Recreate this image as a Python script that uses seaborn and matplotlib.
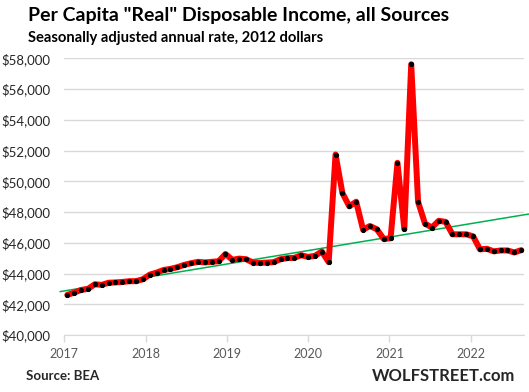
import numpy as np
import pandas as pd
import seaborn as sb
from matplotlib import pyplot as plt
from matplotlib.ticker import FuncFormatter

# monthly per capita real disposable income, Jan 2017 - Jul 2022 (2012 dollars)
income_2017 = [42606, 42756, 42930, 43000, 43300, 43260, 43400, 43420, 43450, 43500, 43500, 43630]
income_2018 = [43930, 44060, 44230, 44300, 44410, 44560, 44670, 44760, 44720, 44760, 44800, 45270]
income_2019 = [44890, 44970, 44930, 44710, 44690, 44710, 44740, 44930, 45000, 45020, 45190, 45080]
income_2020 = [45150, 45430, 44740, 51740, 49230, 48370, 48670, 46850, 47090, 46880, 46250, 46290]
income_2021 = [51200, 46890, 57610, 48660, 47250, 46990, 47430, 47360, 46550, 46550, 46550, 46420]
income_2022 = [45570, 45610, 45440, 45500, 45500, 45370, 45520]

years = ['2017', '2018', '2019', '2020', '2021', '2022']
# green trend line at its two ends (month index, value)
trend_x = [-1.06, 67.1]
trend_y = [42820, 47870]

income = income_2017 + income_2018 + income_2019 + income_2020 + income_2021 + income_2022
df = pd.DataFrame({'month': np.arange(len(income)), 'income': income})

sb.set_style('white')
plt.rcParams['font.family'] = ['Lato', 'DejaVu Sans']

fig = plt.figure(figsize=(5.29, 3.92), dpi=100)
ax = fig.add_axes([64 / 529, 1 - 335 / 392, (524 - 64) / 529, (335 - 58.3) / 392])

# trend line runs a little past the plot area on both sides
ax.plot(trend_x, trend_y, color='#00b050', linewidth=1.1, clip_on=False, zorder=3)

sb.lineplot(data=df, x='month', y='income', ax=ax, color='#ff0000', linewidth=4.3,
            marker='o', markersize=3, markerfacecolor='black', markeredgecolor='black',
            zorder=4, clip_on=False)

ax.set_ylim(40000, 58000)
ax.set_xlim(-0.48, 66.4)
ax.set_yticks(range(40000, 58001, 2000))
ax.yaxis.set_major_formatter(FuncFormatter(lambda v, p: f'${v:,.0f}'))
ax.set_xticks([-0.44 + 11.82 * k for k in range(len(years))])
ax.set_xticklabels(years)
ax.set_xlabel('')
ax.set_ylabel('')

ax.grid(axis='y', color='#d9d9d9', linewidth=1)
ax.grid(axis='x', visible=False)
for side in ['top', 'right', 'left']:
    ax.spines[side].set_visible(False)
ax.spines['bottom'].set_color('#d9d9d9')
ax.tick_params(axis='y', length=0, pad=10, labelsize=9.5, labelcolor='#262626')
ax.tick_params(axis='x', length=5, width=1, color='#d9d9d9', pad=4, labelsize=9, labelcolor='#595959',
               bottom=True)

fig.text(28 / 529, 1 - 21 / 392, 'Per Capita "Real" Disposable Income, all Sources',
         fontsize=14, fontweight='bold', color='black', va='baseline')
fig.text(28 / 529, 1 - 42 / 392, 'Seasonally adjusted annual rate, 2012 dollars',
         fontsize=10.6, fontweight='bold', color='black', va='baseline')
fig.text(26 / 529, 1 - 380 / 392, 'Source: BEA', fontsize=9.5, fontweight='bold', va='baseline')
fig.text(515 / 529, 1 - 381 / 392, 'WOLFSTREET.com', fontsize=12, fontweight='bold',
         ha='right', va='baseline')

fig.savefig('out.png', dpi=100)
